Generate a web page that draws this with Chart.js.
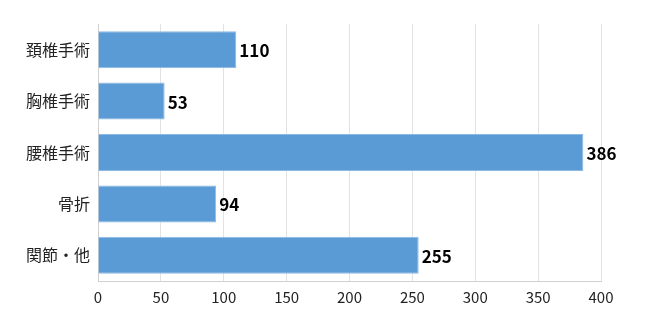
<!DOCTYPE html>
<html>
<head>
<meta charset="utf-8">
<script src="https://cdn.jsdelivr.net/npm/chart.js@4/dist/chart.umd.min.js"></script>
<style>
	html, body { margin: 0; padding: 0; background: #fff; }
	#wrap { width: 650px; height: 320px; }
</style>
</head>
<body>
<div id="wrap"><canvas id="chart" width="650" height="320"></canvas></div>
<script>
// data
const categories = ['頚椎手術', '胸椎手術', '腰椎手術', '骨折', '関節・他'];
const counts = [110, 53, 386, 94, 255];
const xTicks = [0, 50, 100, 150, 200, 250, 300, 350, 400];

const fontFamily = '"Noto Sans CJK JP", "Noto Sans", sans-serif';

// labels at the bar ends
const barLabels = {
	id: 'barLabels',
	afterDatasetsDraw(chart) {
		const ctx = chart.ctx;
		const meta = chart.getDatasetMeta(0);
		ctx.save();
		ctx.font = 'bold 17px ' + fontFamily;
		ctx.fillStyle = '#000';
		ctx.textBaseline = 'middle';
		ctx.textAlign = 'left';
		meta.data.forEach((bar, i) => {
			ctx.fillText(String(counts[i]), bar.x + 3, bar.y + 1);
		});
		ctx.restore();
	}
};

new Chart('chart', {
	type: 'bar',
	data: {
		labels: categories,
		datasets: [{
			data: counts,
			backgroundColor: '#5b9bd5',
			borderColor: '#8cb9e4',
			borderWidth: 1,
			borderSkipped: 'left',
			categoryPercentage: 1,
			barPercentage: 0.72
		}]
	},
	options: {
		indexAxis: 'y',
		responsive: false,
		animation: false,
		layout: {
			padding: { left: 0, right: 49, top: 24, bottom: 0 }
		},
		plugins: {
			legend: { display: false },
			tooltip: { enabled: false }
		},
		scales: {
			x: {
				min: 0,
				max: 400,
				afterFit: s => { s.height = 39; },
				afterBuildTicks: s => { s.ticks = xTicks.map(v => ({ value: v })); },
				grid: { color: '#e2e2e2', drawTicks: false },
				border: { color: '#d0d0d0' },
				ticks: {
					padding: 7,
					color: '#222',
					font: { family: fontFamily, size: 15 }
				}
			},
			y: {
				afterFit: s => { s.width = 98; },
				grid: { display: false, drawTicks: false },
				border: { color: '#d0d0d0' },
				ticks: {
					padding: 8,
					color: '#222',
					font: { family: fontFamily, size: 16 }
				}
			}
		}
	},
	plugins: [barLabels]
});
</script>
</body>
</html>
